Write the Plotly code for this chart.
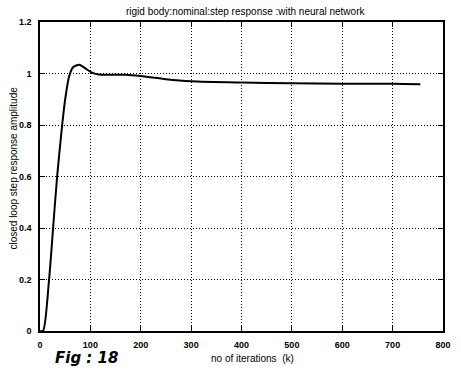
import plotly.graph_objects as go

# Closed-loop step response of the rigid body (nominal plant) with the neural network
iterations = [0, 6, 18, 26, 34, 44, 50, 58, 66, 78, 90, 102, 116, 140, 170,
              200, 250, 300, 400, 500, 600, 700, 755]
response = [0.0, 0.0, 0.2, 0.4, 0.6, 0.8, 0.9, 0.99, 1.025, 1.034, 1.02, 1.004,
            0.996, 0.995, 0.995, 0.99, 0.978, 0.97, 0.965, 0.962, 0.96, 0.96, 0.958]

x_ticks = [0, 100, 200, 300, 400, 500, 600, 700, 800]
y_ticks = [0, 0.2, 0.4, 0.6, 0.8, 1.0, 1.2]

title_text = "rigid body:nominal:step response :with neural network"
x_label = "no of iterations  (k)"
y_label = "closed loop step response amplitude"
fig_label = "Fig : 18"

W, H = 461, 373
L, R, T, B = 40, 10, 22, 42
pw, ph = W - L - R, H - T - B


def px_x(px):
    return (px - L) / pw


def px_y(py):
    return (H - B - py) / ph


fig = go.Figure()
fig.add_trace(go.Scatter(
    x=iterations, y=response, mode="lines",
    line=dict(color="black", width=2, shape="spline", smoothing=0.7),
    showlegend=False, hoverinfo="skip",
))

axis_common = dict(
    showline=True, linecolor="black", linewidth=1.5, mirror="ticks",
    ticks="inside", ticklen=5, tickwidth=1, tickcolor="black",
    showgrid=True, gridcolor="black", gridwidth=1, griddash="1px,2px",
    zeroline=False,
    tickfont=dict(family="Liberation Sans", size=9, color="black", weight="bold"),
)

fig.update_xaxes(range=[0, 800], tickvals=x_ticks, ticklabelstandoff=4, **axis_common)
fig.update_yaxes(range=[0, 1.2], tickvals=y_ticks, ticklabelstandoff=5, **axis_common)

text_font = dict(family="Liberation Sans", size=10, color="black")

fig.add_annotation(text=title_text, xref="paper", yref="paper",
                   x=px_x(250), y=px_y(11), showarrow=False,
                   xanchor="center", yanchor="middle", font=text_font)
fig.add_annotation(text=x_label, xref="paper", yref="paper",
                   x=px_x(257), y=px_y(358), showarrow=False,
                   xanchor="center", yanchor="middle", font=text_font)
fig.add_annotation(text=y_label, xref="paper", yref="paper",
                   x=px_x(12), y=px_y(168), showarrow=False, textangle=-90,
                   xanchor="center", yanchor="middle", font=text_font)
fig.add_annotation(text="<b><i>" + fig_label + "</i></b>", xref="paper", yref="paper",
                   x=px_x(87), y=px_y(358), showarrow=False,
                   xanchor="center", yanchor="middle",
                   font=dict(family="DejaVu Sans", size=15, color="black"))

fig.update_layout(
    width=W, height=H,
    margin=dict(l=L, r=R, t=T, b=B),
    paper_bgcolor="white", plot_bgcolor="white",
)

fig.write_html("out.html")
